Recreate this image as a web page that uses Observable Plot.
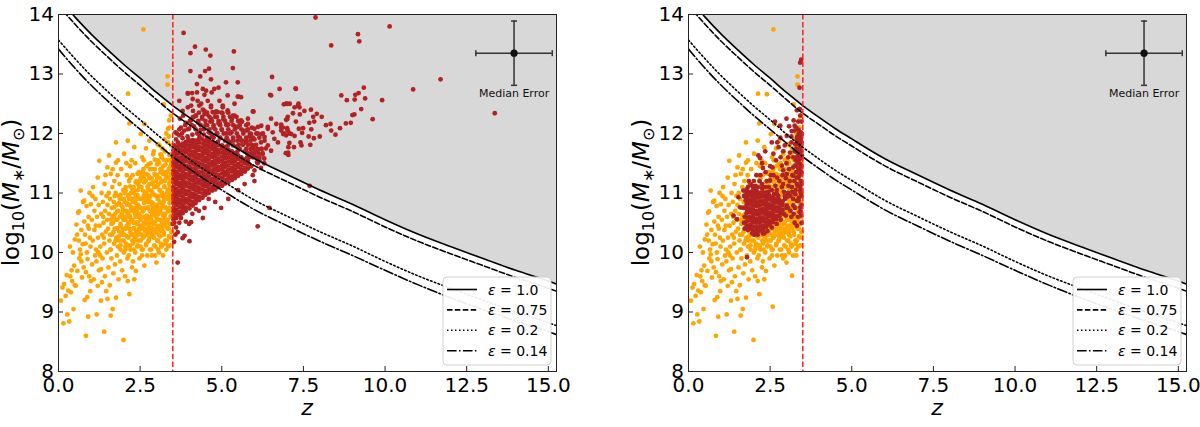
<!DOCTYPE html>
<html>
<head>
<meta charset="utf-8">
<script src="https://cdn.jsdelivr.net/npm/d3@7"></script>
<script src="https://cdn.jsdelivr.net/npm/@observablehq/plot@0.6"></script>
<style>
  body { margin: 0; background: #fff; font-family: "DejaVu Sans", sans-serif; }
  #wrap { display: flex; width: 1200px; height: 427px; }
  #wrap > div { width: 600px; height: 427px; }
</style>
</head>
<body>
<div id="wrap"><div id="left"></div><div id="right"></div></div>
<script>
// ---- axes ----
const xDomain = [0, 15.25];
const yDomain = [8, 14];
const xTicks = [0, 2.5, 5, 7.5, 10, 12.5, 15];
const yTicks = [8, 9, 10, 11, 12, 13, 14];
const zSplit = 3.5;

// ---- maximum stellar mass curves, log10(M*/Msun) vs z ----
const curveZ = [0, 0.5, 1, 1.5, 2, 2.5, 3, 3.5, 4, 4.5, 5, 5.5, 6, 7, 8, 9, 10, 11, 12, 13, 14, 15, 15.25];
const limitEps100 = [14.28, 13.96, 13.67, 13.41, 13.16, 12.93, 12.69, 12.47, 12.27, 12.08, 11.91, 11.74, 11.58, 11.31, 11.05, 10.81, 10.55, 10.31, 10.1, 9.9, 9.7, 9.52, 9.47];
const limitEps075 = [14.15, 13.84, 13.55, 13.29, 13.04, 12.81, 12.57, 12.34, 12.15, 11.96, 11.79, 11.62, 11.46, 11.19, 10.93, 10.69, 10.43, 10.19, 9.98, 9.78, 9.58, 9.4, 9.35];
const limitEps020 = [13.57, 13.26, 12.97, 12.71, 12.46, 12.23, 11.99, 11.77, 11.57, 11.38, 11.21, 11.04, 10.88, 10.61, 10.35, 10.11, 9.85, 9.61, 9.4, 9.2, 9.0, 8.82, 8.77];
const limitEps014 = [13.42, 13.1, 12.81, 12.55, 12.3, 12.07, 11.84, 11.61, 11.41, 11.22, 11.05, 10.88, 10.72, 10.45, 10.19, 9.95, 9.7, 9.46, 9.24, 9.04, 8.85, 8.67, 8.62];
const epsLabels = ["1.0", "0.75", "0.2", "0.14"];

// ---- median uncertainty ----
const medianError = {z: 13.95, m: 13.35, dz: 1.17, dm: 0.54};

// ---- galaxies at z < 3.5: [z, log10 M*] ----
const lowZSample = [
[0.07,9.19],[0.12,9.41],[0.15,8.81],[0.17,9.47],[0.22,9.27],[0.27,8.96],[0.3,9.36],[0.33,8.84],[0.36,9.6],[0.38,9.33],[0.42,9.52],[0.46,9.05],[0.48,9.78],[0.5,9.45],[0.44,10.0],[0.4,9.7],[0.25,9.62],[0.5,10.22],[0.35,10.1],
[0.53,9.44],[0.55,10.47],[0.58,9.69],[0.6,10.67],[0.62,10.2],[0.64,9.9],[0.66,10.05],[0.68,9.97],[0.7,10.38],[0.72,9.58],[0.74,10.14],[0.75,10.85],[0.77,9.75],[0.79,10.52],[0.8,9.2],[0.81,10.3],[0.84,9.67],[0.84,8.6],[0.86,10.78],[0.87,10.0],[0.89,9.89],[0.9,10.45],[0.91,8.92],[0.92,10.6],[0.94,9.6],[0.95,11.0],[0.96,10.25],[0.97,9.35],[0.99,9.52],[0.99,10.81],[0.63,10.69],[0.68,11.04],[0.79,10.87],[0.83,10.15],[0.57,10.3],[0.93,10.4],[0.98,10.1],[0.7,9.85],[0.88,9.25],
[1.02,10.55],[1.03,9.8],[1.05,10.2],[1.06,11.1],[1.08,9.55],[1.1,10.7],[1.1,10.38],[1.12,9.95],[1.13,10.9],[1.15,10.05],[1.17,8.96],[1.18,10.6],[1.2,9.44],[1.2,11.26],[1.21,10.25],[1.23,10.8],[1.24,9.7],[1.25,11.54],[1.26,10.45],[1.28,10.1],[1.3,9.19],[1.3,9.72],[1.31,10.65],[1.32,11.0],[1.34,10.3],[1.35,9.9],[1.36,10.85],[1.38,10.5],[1.4,8.67],[1.4,10.15],[1.41,11.15],[1.42,9.6],[1.43,10.7],[1.45,10.35],[1.46,9.35],[1.47,10.95],[1.48,10.0],[1.49,10.55],[1.5,9.22],[1.5,11.43],[1.5,10.8],[1.04,10.95],[1.14,10.45],[1.27,9.95],[1.37,10.6],[1.44,11.3],[1.16,9.85],[1.33,9.5],[1.22,10.0],[1.39,10.25],
[1.52,10.4],[1.53,9.75],[1.54,10.65],[1.55,11.63],[1.56,10.2],[1.57,9.45],[1.58,10.9],[1.59,10.05],[1.6,11.32],[1.6,8.94],[1.61,10.55],[1.62,9.9],[1.63,10.75],[1.64,10.3],[1.65,11.1],[1.66,9.05],[1.67,10.5],[1.68,9.65],[1.69,10.85],[1.7,10.15],[1.71,11.2],[1.72,10.4],[1.73,9.8],[1.74,10.65],[1.75,11.0],[1.76,9.24],[1.76,11.51],[1.76,11.85],[1.77,10.25],[1.78,10.8],[1.79,9.95],[1.8,10.55],[1.81,11.3],[1.82,10.1],[1.83,10.7],[1.84,9.55],[1.85,10.95],[1.86,10.35],[1.87,11.15],[1.88,10.6],[1.89,9.85],[1.9,10.45],[1.91,10.8],[1.92,11.4],[1.93,10.2],[1.94,10.65],[1.95,9.7],[1.96,10.9],[1.97,10.4],[1.98,11.05],[1.99,8.53],[1.99,10.55],[2.0,10.0],[1.54,11.0],[1.6,10.05],[1.66,11.4],[1.72,10.95],[1.79,10.4],[1.85,10.2],[1.9,10.05],[1.95,10.3],[1.58,10.3],[1.7,10.6],[1.82,11.55],[1.88,10.9],[1.97,10.7],
[2.01,11.66],[2.02,10.3],[2.03,10.85],[2.04,9.6],[2.05,10.55],[2.06,11.1],[2.07,10.15],[2.08,10.7],[2.09,11.3],[2.1,10.45],[2.11,9.9],[2.12,11.88],[2.12,9.52],[2.13,12.67],[2.13,10.95],[2.14,10.25],[2.15,10.6],[2.16,11.2],[2.17,9.3],[2.17,12.17],[2.17,10.8],[2.18,10.4],[2.19,11.45],[2.2,10.05],[2.21,10.7],[2.22,11.0],[2.23,10.3],[2.24,10.9],[2.25,9.75],[2.26,10.55],[2.27,11.3],[2.28,10.15],[2.29,10.75],[2.3,11.1],[2.31,10.4],[2.32,9.55],[2.32,11.77],[2.33,10.85],[2.34,10.25],[2.35,11.5],[2.36,10.6],[2.37,9.69],[2.37,10.95],[2.38,10.35],[2.39,11.2],[2.4,10.7],[2.41,10.1],[2.42,10.5],[2.43,11.05],[2.44,10.8],[2.45,10.2],[2.46,11.35],[2.47,10.65],[2.48,9.9],[2.49,10.9],[2.5,10.45],[2.02,10.6],[2.05,10.1],[2.08,11.5],[2.1,10.8],[2.14,10.5],[2.18,10.1],[2.2,11.25],[2.22,10.55],[2.25,10.3],[2.27,10.85],[2.29,10.5],[2.31,11.0],[2.34,10.65],[2.36,10.2],[2.38,10.9],[2.4,10.5],[2.42,10.75],[2.44,11.15],[2.46,10.4],[2.48,10.6],[2.03,11.0],[2.07,10.4],[2.12,10.65],[2.16,10.9],[2.19,10.6],[2.23,10.75],[2.26,11.05],[2.3,10.3],[2.33,10.5],[2.37,10.75],[2.41,10.95],[2.45,10.6],[2.49,11.2],[2.15,9.95],[2.28,9.85],[2.35,10.0],[2.43,10.3],[2.24,11.55],
[2.51,10.1],[2.52,11.99],[2.52,10.75],[2.53,10.4],[2.54,11.1],[2.55,10.6],[2.56,9.95],[2.57,10.9],[2.58,11.35],[2.59,10.25],[2.6,13.75],[2.6,10.7],[2.61,11.55],[2.62,10.5],[2.63,9.78],[2.63,12.16],[2.64,11.0],[2.65,10.35],[2.66,10.85],[2.67,11.2],[2.68,10.55],[2.69,10.15],[2.7,11.45],[2.71,10.75],[2.72,10.4],[2.73,11.05],[2.74,10.6],[2.75,11.3],[2.76,10.2],[2.77,10.95],[2.78,11.88],[2.78,10.45],[2.79,11.15],[2.8,10.7],[2.81,10.3],[2.82,11.5],[2.83,10.85],[2.84,10.55],[2.85,11.25],[2.86,9.95],[2.87,10.65],[2.88,11.0],[2.89,10.4],[2.9,11.65],[2.91,10.8],[2.92,10.25],[2.93,11.1],[2.94,10.5],[2.95,11.4],[2.96,10.7],[2.97,10.1],[2.98,10.95],[2.99,11.2],[3.0,9.83],[3.0,10.6],[2.53,10.9],[2.55,11.3],[2.57,10.45],[2.59,10.6],[2.61,10.95],[2.63,10.4],[2.65,10.75],[2.67,10.5],[2.69,11.0],[2.71,10.3],[2.73,10.6],[2.75,10.85],[2.77,10.5],[2.79,10.25],[2.81,10.95],[2.83,10.6],[2.85,10.4],[2.87,11.15],[2.89,10.75],[2.91,10.5],[2.93,10.8],[2.95,10.35],[2.97,11.3],[2.99,10.4],[2.54,10.3],[2.58,10.05],[2.62,11.25],[2.66,10.6],[2.7,10.9],[2.74,10.35],[2.78,11.05],[2.82,10.35],[2.86,10.8],[2.9,10.3],[2.94,10.65],[2.98,11.55],[2.56,11.6],[2.68,11.75],[2.8,11.4],[2.92,11.7],[2.72,9.95],[2.84,10.05],[2.96,9.95],
[3.01,10.8],[3.02,11.3],[3.03,10.45],[3.04,11.82],[3.04,10.95],[3.05,10.2],[3.06,11.15],[3.07,10.65],[3.08,11.5],[3.09,10.35],[3.1,10.85],[3.11,11.05],[3.12,10.55],[3.13,11.35],[3.14,10.75],[3.15,10.1],[3.16,11.6],[3.17,10.95],[3.18,10.4],[3.19,11.2],[3.2,10.65],[3.21,11.45],[3.22,12.49],[3.22,10.85],[3.23,10.3],[3.24,11.1],[3.25,10.6],[3.26,11.7],[3.27,10.95],[3.28,10.45],[3.29,11.3],[3.3,10.75],[3.31,11.55],[3.32,10.2],[3.33,11.0],[3.34,12.96],[3.34,12.82],[3.34,10.55],[3.35,12.08],[3.35,11.85],[3.36,11.25],[3.37,10.9],[3.38,11.95],[3.38,10.4],[3.39,12.22],[3.39,11.4],[3.4,10.7],[3.41,11.1],[3.42,11.65],[3.43,10.6],[3.44,12.3],[3.44,11.3],[3.45,10.85],[3.46,11.5],[3.47,11.0],[3.47,10.35],[3.3,12.0],[3.25,11.9],[3.18,11.75],[3.12,11.65],[3.05,11.55],[3.4,12.1],[3.46,11.8],[3.02,10.55],[3.06,10.75],[3.1,11.25],[3.14,10.45],[3.18,11.0],[3.22,10.55],[3.26,11.2],[3.3,10.5],[3.34,11.05],[3.38,10.75],[3.42,10.95],[3.46,10.6],[3.03,11.1],[3.07,10.3],[3.11,10.7],[3.15,11.4],[3.19,10.8],[3.23,11.35],[3.27,10.65],[3.31,10.95],[3.35,10.4],[3.39,11.15],[3.43,11.45],[3.47,11.2],[3.08,10.0],[3.2,9.95],[3.36,10.1],[3.44,10.25],[3.13,10.15],[3.28,10.15],[3.16,11.0],[3.24,10.9],[3.32,11.35],[3.4,11.55],[3.46,11.05],[3.09,11.8]
];
// the crowded middle of the z < 3.5 cloud, as [log10 M*, [z ...]] rows
const lowZDenseRows = [
[10.05,[2.05,2.3,2.55,2.8,3.05,3.3]],
[10.12,[1.9,2.15,2.42,2.68,2.93,3.18,3.42]],
[10.2,[1.75,2.0,2.26,2.52,2.77,3.02,3.27]],
[10.27,[1.85,2.1,2.36,2.62,2.87,3.12,3.38]],
[10.34,[1.68,1.95,2.2,2.46,2.72,2.97,3.22,3.46]],
[10.41,[1.8,2.05,2.31,2.57,2.83,3.08,3.33]],
[10.48,[1.62,1.9,2.15,2.4,2.66,2.91,3.16,3.42]],
[10.55,[1.75,2.0,2.25,2.51,2.77,3.02,3.28]],
[10.62,[1.65,1.92,2.18,2.44,2.7,2.95,3.2,3.45]],
[10.69,[1.8,2.06,2.32,2.58,2.83,3.09,3.35]],
[10.76,[1.7,1.96,2.22,2.48,2.74,3.0,3.25]],
[10.83,[1.85,2.1,2.36,2.62,2.88,3.14,3.4]],
[10.9,[2.0,2.26,2.52,2.78,3.04,3.3]],
[10.97,[1.9,2.15,2.41,2.67,2.93,3.19,3.44]],
[11.04,[2.06,2.32,2.58,2.84,3.1,3.36]],
[11.11,[2.2,2.47,2.73,2.98,3.24]],
[11.18,[2.36,2.62,2.88,3.14,3.4]],
[11.25,[2.52,2.78,3.03,3.29]],
[11.32,[2.42,2.68,2.94,3.2,3.45]],
[11.4,[2.6,2.86,3.12,3.38]],
[11.48,[2.75,3.02,3.28]],
[11.56,[2.95,3.22,3.46]],
[11.64,[3.15,3.4]]
];
// a few z < 3.5 objects seen only with the revised redshifts
const lowZSampleRevisedExtra = [[2.58,9.09],[3.17,9.61],[2.4,12.66],[2.9,9.9],[3.3,9.95]];

// ---- galaxies at z > 3.5 (left panel) ----
// densely populated part, as [z, [log10 M* ...]] columns
const highZCore = [
[3.52,[10.55,10.61,10.69,10.75,10.83,10.9,10.96,11.04,11.1,11.18,11.24,11.32,11.38,11.46,11.52,11.6,11.66,11.72]],
[3.61,[10.58,10.65,10.72,10.8,10.86,10.93,11.0,11.07,11.15,11.21,11.28,11.35,11.43,11.49,11.56,11.63,11.7,11.76]],
[3.71,[10.63,10.68,10.76,10.83,10.89,10.97,11.03,11.11,11.17,11.25,11.31,11.39,11.45,11.53,11.59,11.67,11.73,11.8]],
[3.8,[10.66,10.73,10.8,10.87,10.94,11.01,11.08,11.15,11.22,11.29,11.36,11.43,11.5,11.57,11.64,11.71,11.78,11.83]],
[3.9,[10.7,10.76,10.84,10.9,10.98,11.04,11.12,11.18,11.26,11.32,11.4,11.46,11.54,11.6,11.68,11.74,11.81,11.86]],
[4.01,[10.74,10.81,10.88,10.95,11.02,11.09,11.16,11.23,11.3,11.37,11.44,11.51,11.58,11.65,11.72,11.79,11.86]],
[4.11,[10.79,10.85,10.93,10.99,11.07,11.13,11.21,11.27,11.35,11.41,11.49,11.55,11.63,11.69,11.77,11.83,11.89]],
[4.2,[10.83,10.9,10.97,11.04,11.11,11.18,11.25,11.32,11.39,11.46,11.53,11.6,11.67,11.74,11.81,11.88]],
[4.3,[10.88,10.94,11.02,11.08,11.16,11.22,11.3,11.36,11.44,11.5,11.58,11.64,11.72,11.78,11.85,11.91]],
[4.41,[10.92,10.99,11.06,11.13,11.2,11.27,11.34,11.41,11.48,11.55,11.62,11.69,11.76,11.83,11.9]],
[4.5,[10.97,11.03,11.11,11.17,11.25,11.31,11.39,11.45,11.53,11.59,11.67,11.73,11.8,11.87]],
[4.6,[11.0,11.07,11.14,11.21,11.28,11.35,11.42,11.49,11.56,11.63,11.7,11.77,11.84,11.89]],
[4.71,[11.04,11.1,11.18,11.24,11.32,11.38,11.46,11.52,11.6,11.66,11.74,11.8,11.86]],
[4.8,[11.06,11.13,11.2,11.27,11.34,11.41,11.48,11.55,11.62,11.69,11.76,11.83]],
[4.9,[11.1,11.16,11.24,11.3,11.38,11.44,11.52,11.58,11.66,11.72,11.8]],
[5.01,[11.12,11.19,11.26,11.33,11.4,11.47,11.54,11.61,11.68,11.75,11.8]],
[5.1,[11.16,11.22,11.3,11.36,11.44,11.5,11.58,11.64,11.71,11.77]],
[5.2,[11.18,11.25,11.32,11.39,11.46,11.53,11.6,11.67,11.73]],
[5.31,[11.22,11.28,11.36,11.42,11.5,11.56,11.63,11.7]],
[5.4,[11.25,11.32,11.39,11.46,11.53,11.6,11.67]],
[5.5,[11.29,11.35,11.43,11.49,11.57,11.63]],
[5.6,[11.32,11.39,11.46,11.53,11.6]],
[5.71,[11.36,11.42,11.5,11.56]],
[5.8,[11.41,11.48,11.54]]
];
// crowded band just above the core, as [log10 M*, [z ...]] rows
const highZBandRows = [
[11.6,[5.85,5.95,6.05,6.15]],
[11.67,[5.78,5.9,6.0,6.12,6.25]],
[11.74,[5.75,5.88,5.98,6.1,6.22]],
[11.81,[5.52,5.65,5.8,5.92,6.05]],
[11.88,[5.2,5.35,5.48,5.62,5.75,5.88]],
[11.93,[4.55,4.75,4.95,5.15,5.35,5.55,5.75,5.95,6.15]],
[12.0,[3.62,3.78,4.3,4.66,4.86,5.06,5.26,5.46,5.66,5.86,6.06,6.26]],
[12.07,[3.7,3.95,4.2,4.45,4.62,4.8,5.0,5.2,5.4,5.6,5.8]],
[12.14,[3.88,4.08,4.35,4.55,4.75,4.95,5.15,5.35,5.55,5.75]],
[12.21,[4.02,4.28,4.5,4.7,4.9,5.1,5.3,5.5]],
[12.28,[4.15,4.4,4.62,4.85,5.05,5.25,5.45]],
[12.35,[4.3,4.55,4.78,5.0,5.2]]
];
const highZScatter = [
[3.55,11.8],[3.6,11.9],[3.58,12.02],[3.66,11.85],[3.7,11.97],[3.75,12.1],[3.8,11.92],[3.85,12.05],[3.9,12.18],[3.95,11.95],[4.0,12.08],[4.05,12.22],[4.1,11.98],[4.15,12.12],[4.2,12.3],[4.25,12.0],[4.28,12.18],[4.35,12.06],[4.4,12.25],[4.45,11.98],[4.5,12.14],[4.55,12.32],[4.6,12.02],[4.65,12.2],[4.7,11.95],[4.75,12.1],[4.8,12.28],[4.85,12.0],[4.9,12.17],[4.95,11.92],[5.0,12.06],[5.05,12.24],[5.1,11.88],[5.15,12.0],[5.2,12.15],[5.25,11.85],[5.3,12.02],[5.35,11.8],[5.4,12.12],[5.45,11.78],[5.5,11.95],[5.55,11.74],[5.6,11.88],[5.65,12.05],[5.7,11.7],[5.75,11.85],[5.8,11.66],[5.85,11.95],[5.9,11.62],[5.95,11.78],[6.0,11.9],[6.05,11.6],[6.1,11.72],[6.15,11.55],[6.2,11.85],[6.25,11.65],[6.3,11.5],[6.35,11.75],[3.65,11.78],[3.98,11.9],[4.32,11.94],[4.58,11.92],[4.88,11.86],[5.18,11.8],[5.48,11.7],[5.78,11.6],[6.08,11.52],[4.12,12.38],[4.42,12.4],[4.72,12.36],[5.02,12.34],[5.32,12.26],[5.62,12.2],[5.92,12.1],[3.72,12.25],[3.82,12.3],
[5.9,11.45],[6.0,11.38],[6.1,11.5],[6.2,11.42],[5.95,11.3],[6.3,11.58],
[3.5,10.48],[3.65,10.34],[3.54,10.18],[3.8,10.24],[3.65,9.83],[4.0,10.48],[4.42,10.58],[4.47,10.75],[4.98,10.75],[6.1,10.44],[6.46,10.75],[3.6,10.42],[3.55,10.5],[3.86,10.28],[4.01,10.19],[4.06,10.51],[4.21,10.73],[3.7,10.5],[3.58,10.3],[4.1,10.65],[3.75,10.58],[3.9,10.52],[4.3,10.7],[5.2,10.9],[4.8,10.85],[5.5,11.05],[5.7,11.15],[6.0,11.2],[4.6,10.9],[7.69,11.12],
[3.83,13.69],[4.04,13.35],[4.18,13.46],[4.04,13.05],[4.51,13.41],[4.65,13.31],[4.49,13.05],[4.61,13.09],[4.67,12.91],[4.34,12.96],[4.24,12.83],[4.09,12.68],[3.96,12.67],[3.7,12.55],[4.42,12.75],[4.52,12.72],[4.77,12.75],[4.9,12.77],[5.13,12.86],[5.37,13.38],[5.34,13.1],[5.49,12.86],[5.51,12.62],[5.97,12.37],[6.54,12.95],[6.48,12.65],[6.77,12.75],[7.08,12.5],[7.0,12.24],[7.27,12.75],[7.23,12.44],[7.02,12.05],[7.04,11.77],[4.26,12.55],[4.31,12.47],[4.57,12.55],[3.96,12.44],[3.8,12.38],[4.11,12.27],[4.47,12.38],[4.67,12.44],[4.88,12.36],[5.03,12.47],[5.18,12.39],[5.39,12.3],[5.59,12.22],[5.8,12.16],[6.0,12.08],[6.21,12.13],[6.41,12.08],[6.56,12.02],[6.92,12.0],[6.1,12.0],[6.31,11.94],[6.61,11.91],[6.82,12.1],
[3.96,12.68],[4.11,12.58],[4.24,12.69],[4.47,12.65],[4.69,12.69],[4.06,12.47],[4.37,12.5],[4.67,12.47],[4.93,12.55],[5.18,12.64],[5.49,12.62],[5.59,12.61],[5.39,12.5],[5.03,12.44],[4.83,12.37],[5.18,12.36],[5.34,12.3],[4.47,12.33],[4.21,12.3],[4.67,12.25],[4.93,12.19],[5.13,12.16],[5.59,12.19],[5.8,12.25],[5.95,12.37],[5.49,12.11],[5.75,12.05],[5.9,11.99],[6.11,12.11],[6.21,11.99],[6.31,11.88],[6.41,11.8],[6.51,12.25],[6.41,12.11],[6.67,12.16],[6.82,12.05],[6.97,11.97],[6.72,11.85],[6.21,11.74],[6.51,11.71],[7.03,11.68],[6.97,12.5],[7.33,12.47],[6.51,12.64],
[7.26,12.76],[8.66,12.64],[8.83,12.56],[9.09,12.65],[9.19,12.68],[9.35,12.77],[9.39,12.59],[9.91,12.56],[9.07,12.57],[6.9,12.49],[7.0,12.5],[7.35,12.5],[7.38,12.44],[7.18,12.34],[7.53,12.38],[7.73,12.4],[7.91,12.33],[8.06,12.28],[7.02,12.28],[6.97,12.23],[7.27,12.2],[7.39,12.32],[7.8,12.28],[7.83,12.2],[8.19,12.14],[8.33,12.16],[8.62,12.09],[8.48,11.98],[8.8,12.17],[8.95,12.18],[9.0,12.31],[9.06,12.32],[9.27,12.41],[9.62,12.24],[6.82,12.15],[6.87,12.1],[7.0,12.09],[7.08,12.0],[7.23,11.96],[7.36,12.08],[7.49,12.09],[7.68,12.18],[7.74,12.07],[7.46,12.01],[7.66,11.95],[7.82,11.92],[8.0,11.95],[8.35,12.05],[7.07,11.84],[7.41,11.85],[7.44,11.8],[7.71,11.81],[7.21,11.77],[6.96,11.67],[7.04,11.64],[6.88,11.99],[7.13,11.99],
[7.87,13.95],[10.14,13.8],[9.17,13.67],[9.21,13.55],[8.35,13.48],[11.7,12.91],[10.86,12.74],[13.36,12.34]
];

// ---- the same objects with revised redshifts (right panel) ----
const revisedCore = [
[1.78,[10.45,10.52,10.59,10.66,10.73,10.8,10.86,10.93,11.0,11.06]],
[1.88,[10.4,10.46,10.54,10.6,10.68,10.74,10.82,10.88,10.96,11.02]],
[1.98,[10.37,10.44,10.51,10.58,10.65,10.72,10.79,10.86,10.93,11.0,11.05]],
[2.08,[10.36,10.42,10.5,10.56,10.64,10.7,10.78,10.84,10.92,10.98,11.04]],
[2.18,[10.37,10.44,10.51,10.58,10.65,10.72,10.79,10.86,10.93,11.0]],
[2.28,[10.39,10.45,10.53,10.59,10.67,10.73,10.81,10.87,10.95,11.01]],
[2.38,[10.43,10.5,10.57,10.64,10.71,10.78,10.85,10.92,10.98]],
[2.48,[10.47,10.53,10.61,10.67,10.75,10.81,10.89,10.95]],
[2.58,[10.51,10.58,10.65,10.72,10.79,10.86,10.92]],
[2.68,[10.56,10.62,10.7,10.76,10.84,10.9]],
[2.78,[10.61,10.68,10.75,10.82,10.88]],
[2.88,[10.66,10.72,10.8,10.86]]
];
const revisedScatter = [
[3.45,13.24],[3.42,13.19],[3.4,12.77],[3.4,12.41],[2.65,12.2],[2.81,12.13],[3.08,12.12],[3.25,12.13],[3.37,11.99],[3.16,12.04],[3.01,11.96],[2.81,11.93],[3.32,11.88],[3.42,11.77],[2.76,11.77],[2.6,11.66],[2.14,11.63],[2.19,11.59],[3.11,11.68],[3.32,11.6],[2.57,11.43],[2.86,11.46],[3.21,11.43],[3.42,11.49],[3.01,11.32],[3.32,11.26],[2.5,11.21],[2.71,11.26],[2.86,11.1],[3.16,11.1],[3.42,11.1],[2.4,11.01],[2.71,10.98],[3.01,10.93],[3.32,10.87],[1.68,11.04],[1.99,10.87],[1.53,10.93],
[1.38,10.62],[1.48,10.56],[1.79,9.92],[3.32,10.45],[3.42,10.76],[3.22,10.65],[3.01,10.79],[1.58,10.76],
[3.32,12.39],[3.4,12.41],[3.24,12.05],[3.37,12.06],[3.47,11.99],[3.32,11.94],[3.42,11.88],[3.27,11.82],[3.42,11.77],[3.32,11.69],[3.47,11.63],[3.21,11.6],[3.37,11.55],[3.27,11.46],[3.42,11.38],[3.21,11.29],[3.37,11.26],[3.32,11.15],[3.16,11.1],[3.42,11.04],[3.27,10.98],[3.37,10.87],[3.21,10.79],
[3.45,11.7],[3.35,11.5],[3.44,11.2],[3.3,11.35],[3.46,10.95],[3.25,11.7],[3.38,11.95],[3.46,12.2],[3.3,12.1],[3.43,10.7],[3.35,10.6],[3.46,10.5],[3.2,10.9],[3.1,11.2],[3.0,11.5],[2.95,11.8],[3.05,11.0],[2.9,11.15],[2.7,11.05],[2.6,11.3],[2.5,11.45],[2.4,11.2],[2.3,11.1],[2.2,11.3],[2.1,11.1],[2.0,11.2],[1.9,11.15],[2.45,10.98],
[2.95,10.95],[3.05,10.75],[3.15,10.6],[3.25,10.5],[2.98,10.62],[2.92,11.02],[2.55,11.05],[2.35,11.1],[2.25,11.15],[2.05,11.12],[1.72,10.4],[1.7,10.95],[2.02,10.3],[2.32,10.32],[3.12,10.95],[3.28,11.05],[3.18,11.3],[3.08,11.4],[2.88,11.3],[3.36,11.7],[3.46,11.35],[3.44,12.02],[3.15,11.85],[2.68,11.55],[2.25,11.5],
[1.72,10.6],[1.74,10.95],[1.82,11.1],[1.95,11.12],[2.12,11.1],[2.25,11.08],[2.45,11.02],[2.62,10.98],[2.75,10.95],[2.95,10.9],[3.0,10.75],[2.92,10.65],[2.82,10.55],[2.7,10.48],[2.55,10.42],[2.42,10.36],[2.28,10.32],[2.12,10.3],[1.95,10.32],[1.82,10.38],[1.7,10.5],[1.68,10.75],[1.75,10.88],
[3.44,10.62],[3.4,10.68],[3.46,10.8],[3.38,10.92],[3.44,11.0],[3.34,11.12],[3.46,11.15],[3.4,11.3],[3.36,11.42],[3.46,11.45],[3.42,11.58],[3.34,11.62],[3.46,11.85],[3.38,11.82],[3.44,11.92],[3.36,12.2],[3.42,12.3],[3.3,11.75],[3.28,11.55],[3.24,11.2],[3.18,11.02],[3.26,10.75],[3.12,10.7],[3.06,11.12],[2.98,11.25],[2.9,11.38],[2.82,11.6],[2.78,11.2],[2.66,11.12],[2.52,11.3],[2.46,11.1],[2.36,11.35],[2.18,11.2],[2.28,11.42],[2.08,11.3],[1.98,11.1],[1.85,11.2],[2.72,11.85],[2.9,11.7],[3.05,11.6],[3.15,11.95],[3.22,12.22],[2.55,11.85],[2.35,11.7],[3.0,12.25]
];

const colLowZ = "#ffa500";
const colHighZ = "#b22222";

function expandColumns(cols) {
  return cols.flatMap(([z, ms]) => ms.map((m) => [z, m]));
}
function expandRows(rows) {
  return rows.flatMap(([m, zs]) => zs.map((z) => [z, m]));
}

const capV = {draw(ctx, size) { const h = Math.sqrt(size / Math.PI); ctx.moveTo(0, -h); ctx.lineTo(0, h); }};
const capH = {draw(ctx, size) { const h = Math.sqrt(size / Math.PI); ctx.moveTo(-h, 0); ctx.lineTo(h, 0); }};

const curveStyles = [
  {values: limitEps100, dash: null},
  {values: limitEps075, dash: "5.5,2.4"},
  {values: limitEps020, dash: "1.5,2.5"},
  {values: limitEps014, dash: "9.6,2.4,1.5,2.4"}
];

function panel(container, {marginLeft, marginRight, layers}) {
  const limitRows = curveZ.map((z, i) => ({z, lo: limitEps100[i], hi: yDomain[1]}));
  const err = [medianError];
  const errStyle = {stroke: "#333", strokeWidth: 1.5};
  const plot = Plot.plot({
    width: 600,
    height: 427,
    marginLeft,
    marginRight,
    marginTop: 14,
    marginBottom: 56,
    x: {domain: xDomain},
    y: {domain: yDomain},
    style: {fontFamily: "DejaVu Sans, sans-serif", fontSize: "20px", color: "#000", background: "#fff", overflow: "visible"},
    marks: [
      Plot.areaY(limitRows, {x: "z", y1: "lo", y2: "hi", fill: "#d8d8d8", clip: true}),
      ...layers.map(({data, fill}) => Plot.dot(data, {x: (d) => d[0], y: (d) => d[1], r: 2.4, fill, clip: true})),
      ...curveStyles.map(({values, dash}) =>
        Plot.line(curveZ.map((z, i) => [z, values[i]]), {x: (d) => d[0], y: (d) => d[1], stroke: "#000", strokeWidth: 1.6, strokeDasharray: dash, curve: "monotone-x", clip: true})
      ),
      Plot.ruleX([zSplit], {stroke: "#ff2020", strokeWidth: 1.5, strokeDasharray: "5.5,2.4"}),
      Plot.ruleY(err, {y: "m", x1: (d) => d.z - d.dz, x2: (d) => d.z + d.dz, ...errStyle}),
      Plot.ruleX(err, {x: "z", y1: (d) => d.m - d.dm, y2: (d) => d.m + d.dm, ...errStyle}),
      Plot.dot(err, {x: (d) => d.z - d.dz, y: "m", symbol: capV, r: 3, fill: "none", ...errStyle}),
      Plot.dot(err, {x: (d) => d.z + d.dz, y: "m", symbol: capV, r: 3, fill: "none", ...errStyle}),
      Plot.dot(err, {x: "z", y: (d) => d.m + d.dm, symbol: capH, r: 3, fill: "none", ...errStyle}),
      Plot.dot(err, {x: "z", y: (d) => d.m - d.dm, symbol: capH, r: 3, fill: "none", ...errStyle}),
      Plot.dot(err, {x: "z", y: "m", r: 3.6, fill: "#111"}),
      Plot.text(err, {x: "z", y: (d) => d.m - d.dm, text: () => "Median Error", dy: 4, lineAnchor: "top", fontSize: 11, fill: "#111"}),
      Plot.frame({stroke: "#222", strokeWidth: 1}),
      Plot.axisX({ticks: xTicks, tickFormat: (d) => d.toFixed(1), tickSize: -5, tickPadding: 11, label: null, stroke: "#222"}),
      Plot.axisY({ticks: yTicks, tickFormat: (d) => String(d), tickSize: -5, tickPadding: 9.5, label: null, stroke: "#222"})
    ]
  });

  const svg = d3.select(plot);
  const [x0, x1] = plot.scale("x").range;
  const [yb, yt] = plot.scale("y").range;

  // x label
  svg.append("text")
    .attr("x", (x0 + x1) / 2).attr("y", yb + 44)
    .attr("text-anchor", "middle").attr("font-size", 22).attr("font-style", "italic")
    .attr("fill", "#000").text("z");

  // y label: log10(M*/M⊙)
  const yl = svg.append("text")
    .attr("transform", `translate(${x0 - 39},${(yb + yt) / 2}) rotate(-90)`)
    .attr("text-anchor", "middle").attr("font-size", 23).attr("fill", "#000");
  yl.append("tspan").text("log");
  yl.append("tspan").attr("font-size", 16).attr("dy", 5).text("10");
  yl.append("tspan").attr("dy", -5).text("(");
  yl.append("tspan").attr("font-style", "italic").text("M");
  yl.append("tspan").attr("font-size", 16).attr("dy", 5).text("\u2217");
  yl.append("tspan").attr("dy", -5).text("/");
  yl.append("tspan").attr("font-style", "italic").text("M");
  yl.append("tspan").attr("font-size", 16).attr("dy", 5).text("\u2299");
  yl.append("tspan").attr("dy", -5).text(")");

  // legend
  const bw = 108, bh = 88;
  const g = svg.append("g").attr("transform", `translate(${x1 - 5 - bw},${yb - 6 - bh})`);
  g.append("rect").attr("width", bw).attr("height", bh).attr("rx", 4)
    .attr("fill", "#fff").attr("fill-opacity", 0.92).attr("stroke", "#d0d0d0");
  curveStyles.forEach(({dash}, i) => {
    const y = 12.5 + i * 20.4;
    g.append("line").attr("x1", 4).attr("x2", 34).attr("y1", y).attr("y2", y)
      .attr("stroke", "#000").attr("stroke-width", 1.6).attr("stroke-dasharray", dash);
    const t = g.append("text").attr("x", 45).attr("y", y + 5)
      .attr("text-anchor", "start").attr("font-size", 14).attr("fill", "#000");
    t.append("tspan").attr("font-style", "italic").text("\u03b5");
    t.append("tspan").text(" = " + epsLabels[i]);
  });

  document.getElementById(container).append(plot);
}

panel("left", {
  marginLeft: 58,
  marginRight: 44,
  layers: [
    {data: lowZSample.concat(expandRows(lowZDenseRows)), fill: colLowZ},
    {data: expandColumns(highZCore).concat(expandRows(highZBandRows), highZScatter), fill: colHighZ}
  ]
});

panel("right", {
  marginLeft: 88,
  marginRight: 14,
  layers: [
    {data: lowZSample.concat(expandRows(lowZDenseRows), lowZSampleRevisedExtra), fill: colLowZ},
    {data: expandColumns(revisedCore).concat(revisedScatter), fill: colHighZ}
  ]
});
</script>
</body>
</html>
